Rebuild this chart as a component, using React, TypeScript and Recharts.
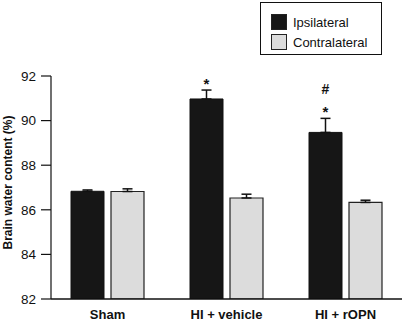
import React from 'react';
import { BarChart, Bar, XAxis, YAxis, ErrorBar, Legend, LabelList, Label } from 'recharts';

const groups = ['Sham', 'HI + vehicle', 'HI + rOPN'];
const seriesNames = ['Ipsilateral', 'Contralateral'];
const seriesColors = ['#161616', '#dcdcdc'];
const ipsilateral = [86.83, 90.97, 89.47];
const ipsilateralErr = [0.06, 0.4, 0.63];
const contralateral = [86.82, 86.53, 86.33];
const contralateralErr = [0.12, 0.17, 0.1];
const starMarks = ['', '*', '*'];
const hashMarks = ['', '', '#'];
const yTicks = [82, 84, 86, 88, 90, 92];
const Y_MIN = 82;
const Y_MAX = 92;

const data = groups.map((g, i) => ({
  group: g,
  ipsi: ipsilateral[i],
  ipsiErr: [0, ipsilateralErr[i]],
  contra: contralateral[i],
  contraErr: [0, contralateralErr[i]],
  star: starMarks[i],
}));

const FONT = 'Liberation Sans, Arial, Helvetica, sans-serif';

const MarkLabel = (props: any) => {
  const { x, y, width, height, index } = props;
  const v = ipsilateral[index];
  const e = ipsilateralErr[index];
  const pxPer = height / (v - Y_MIN);
  const top = y - e * pxPer;
  const cx = x + width / 2;
  return (
    <g fontFamily={FONT} fill="#111">
      {starMarks[index] ? (
        <text x={cx} y={top - 1} textAnchor="middle" fontSize={15} fontWeight="bold">*</text>
      ) : null}
      {hashMarks[index] ? (
        <text x={cx} y={top - 24} textAnchor="middle" fontSize={14} fontWeight="bold">#</text>
      ) : null}
    </g>
  );
};

const LegendBox = () => {
  return (
    <div
      style={{
        border: '1px solid #111',
        width: 122,
        height: 53,
        boxSizing: 'border-box',
        padding: '9px 0 0 10px',
        fontFamily: FONT,
        fontSize: 13,
        color: '#111',
        background: '#fff',
      }}
    >
      {seriesNames.map((name, i) => (
        <div key={name} style={{ display: 'flex', alignItems: 'center', height: 20 }}>
          <span
            style={{
              display: 'inline-block',
              width: 16,
              height: 16,
              boxSizing: 'border-box',
              background: seriesColors[i],
              border: '1px solid #222',
              marginRight: 6,
            }}
          />
          <span>{name}</span>
        </div>
      ))}
    </div>
  );
};

const YLabel = (props: any) => {
  const vb = props.viewBox || {};
  const cx = 8;
  const cy = vb.y + vb.height / 2 - 5;
  return (
    <text
      x={cx}
      y={cy}
      transform={`rotate(-90 ${cx} ${cy})`}
      textAnchor="middle"
      dominantBaseline="central"
      fontFamily={FONT}
      fontWeight="bold"
      fontSize={12}
      fill="#111"
    >
      Brain water content (%)
    </text>
  );
};

export default function App() {
  return (
    <div style={{ position: 'absolute', left: 0, top: 0, background: '#fff' }}>
      <BarChart
        width={402}
        height={323}
        data={data}
        margin={{ top: 76, right: 0, bottom: 0, left: 0 }}
        barGap={7}
        barSize={33}
      >
        <XAxis
          dataKey="group"
          padding={{ left: -3, right: -3 }}
          tickLine={false}
          tickSize={0}
          tickMargin={11}
          height={24}
          axisLine={{ stroke: '#111', strokeWidth: 1.5 }}
          tick={{ fontFamily: FONT, fontSize: 13, fontWeight: 'bold', fill: '#111' }}
        />
        <YAxis
          domain={[Y_MIN, Y_MAX]}
          ticks={yTicks}
          width={51}
          tickSize={10}
          tickMargin={5}
          axisLine={{ stroke: '#111', strokeWidth: 1.2 }}
          tickLine={{ stroke: '#111', strokeWidth: 1.2 }}
          tick={{ fontFamily: FONT, fontSize: 13.5, fill: '#111' }}
          allowDataOverflow
        >
          <Label content={<YLabel />} />
        </YAxis>
        <Legend
          layout="horizontal"
          verticalAlign="middle"
          align="center"
          content={<LegendBox />}
          wrapperStyle={{ position: 'absolute', left: 260, top: 2, width: 122 }}
        />
        <Bar
          dataKey="ipsi"
          name={seriesNames[0]}
          fill={seriesColors[0]}
          stroke="#111"
          strokeWidth={1}
          isAnimationActive={false}
        >
          <ErrorBar dataKey="ipsiErr" width={5} stroke="#111" strokeWidth={1.5} isAnimationActive={false} />
          <LabelList dataKey="star" content={<MarkLabel />} />
        </Bar>
        <Bar
          dataKey="contra"
          name={seriesNames[1]}
          fill={seriesColors[1]}
          stroke="#222"
          strokeWidth={1.2}
          isAnimationActive={false}
        >
          <ErrorBar dataKey="contraErr" width={5} stroke="#111" strokeWidth={1.5} isAnimationActive={false} />
        </Bar>
      </BarChart>
    </div>
  );
}
